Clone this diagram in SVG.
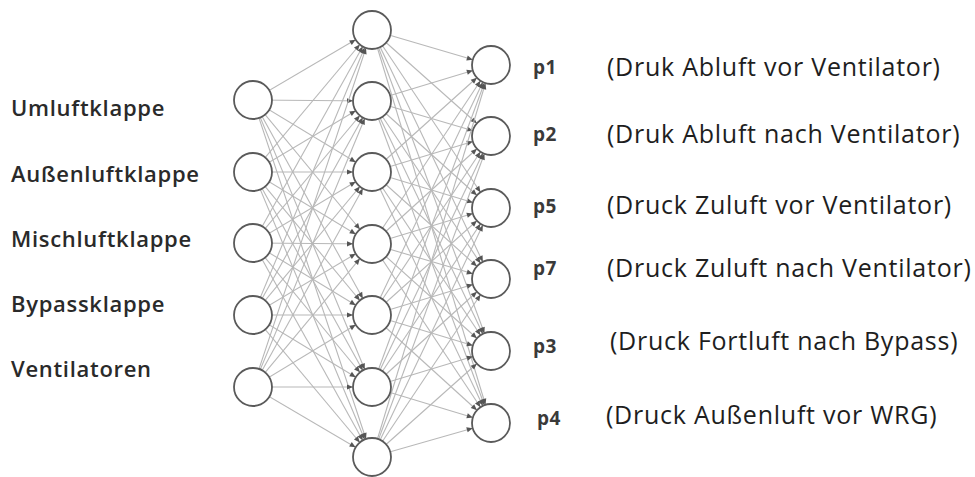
<svg xmlns="http://www.w3.org/2000/svg" width="975" height="477" viewBox="0 0 975 477">
<style>
.c{stroke:#b8b8b8;stroke-width:1.1;fill:none;marker-end:url(#ah)}
.n{fill:#fff;stroke:#5a5a5a;stroke-width:1.8}
.lab{font-family:"Open Sans","Liberation Sans",sans-serif;font-weight:600;font-size:22px;letter-spacing:0.7px;fill:#2a2a2a}
.p{font-family:"Open Sans","Liberation Sans",sans-serif;font-weight:700;font-size:19px;letter-spacing:0.5px;fill:#3a3a3a}
.d{font-family:"Open Sans","Liberation Sans",sans-serif;font-size:25px;letter-spacing:0.75px;fill:#1e1e1e}
</style>
<defs>
<marker id="ah" markerUnits="userSpaceOnUse" markerWidth="8" markerHeight="6" refX="19" refY="0" orient="auto" overflow="visible">
<path d="M-6,-2.6 L0,0 L-6,2.6 z" fill="#555"/>
</marker>
</defs>
<rect width="975" height="477" fill="#fff"/>
<g id="connectors">
<line class="c" x1="253" y1="100" x2="372" y2="30"/>
<line class="c" x1="253" y1="100" x2="372" y2="101"/>
<line class="c" x1="253" y1="100" x2="372" y2="172"/>
<line class="c" x1="253" y1="100" x2="372" y2="244"/>
<line class="c" x1="253" y1="100" x2="372" y2="315"/>
<line class="c" x1="253" y1="100" x2="372" y2="387"/>
<line class="c" x1="253" y1="100" x2="372" y2="457"/>
<line class="c" x1="253" y1="172" x2="372" y2="30"/>
<line class="c" x1="253" y1="172" x2="372" y2="101"/>
<line class="c" x1="253" y1="172" x2="372" y2="172"/>
<line class="c" x1="253" y1="172" x2="372" y2="244"/>
<line class="c" x1="253" y1="172" x2="372" y2="315"/>
<line class="c" x1="253" y1="172" x2="372" y2="387"/>
<line class="c" x1="253" y1="172" x2="372" y2="457"/>
<line class="c" x1="253" y1="243" x2="372" y2="30"/>
<line class="c" x1="253" y1="243" x2="372" y2="101"/>
<line class="c" x1="253" y1="243" x2="372" y2="172"/>
<line class="c" x1="253" y1="243" x2="372" y2="244"/>
<line class="c" x1="253" y1="243" x2="372" y2="315"/>
<line class="c" x1="253" y1="243" x2="372" y2="387"/>
<line class="c" x1="253" y1="243" x2="372" y2="457"/>
<line class="c" x1="253" y1="315" x2="372" y2="30"/>
<line class="c" x1="253" y1="315" x2="372" y2="101"/>
<line class="c" x1="253" y1="315" x2="372" y2="172"/>
<line class="c" x1="253" y1="315" x2="372" y2="244"/>
<line class="c" x1="253" y1="315" x2="372" y2="315"/>
<line class="c" x1="253" y1="315" x2="372" y2="387"/>
<line class="c" x1="253" y1="315" x2="372" y2="457"/>
<line class="c" x1="253" y1="387" x2="372" y2="30"/>
<line class="c" x1="253" y1="387" x2="372" y2="101"/>
<line class="c" x1="253" y1="387" x2="372" y2="172"/>
<line class="c" x1="253" y1="387" x2="372" y2="244"/>
<line class="c" x1="253" y1="387" x2="372" y2="315"/>
<line class="c" x1="253" y1="387" x2="372" y2="387"/>
<line class="c" x1="253" y1="387" x2="372" y2="457"/>
<line class="c" x1="372" y1="30" x2="491" y2="65"/>
<line class="c" x1="372" y1="30" x2="491" y2="136"/>
<line class="c" x1="372" y1="30" x2="491" y2="208"/>
<line class="c" x1="372" y1="30" x2="491" y2="279"/>
<line class="c" x1="372" y1="30" x2="491" y2="351"/>
<line class="c" x1="372" y1="30" x2="491" y2="423"/>
<line class="c" x1="372" y1="101" x2="491" y2="65"/>
<line class="c" x1="372" y1="101" x2="491" y2="136"/>
<line class="c" x1="372" y1="101" x2="491" y2="208"/>
<line class="c" x1="372" y1="101" x2="491" y2="279"/>
<line class="c" x1="372" y1="101" x2="491" y2="351"/>
<line class="c" x1="372" y1="101" x2="491" y2="423"/>
<line class="c" x1="372" y1="172" x2="491" y2="65"/>
<line class="c" x1="372" y1="172" x2="491" y2="136"/>
<line class="c" x1="372" y1="172" x2="491" y2="208"/>
<line class="c" x1="372" y1="172" x2="491" y2="279"/>
<line class="c" x1="372" y1="172" x2="491" y2="351"/>
<line class="c" x1="372" y1="172" x2="491" y2="423"/>
<line class="c" x1="372" y1="244" x2="491" y2="65"/>
<line class="c" x1="372" y1="244" x2="491" y2="136"/>
<line class="c" x1="372" y1="244" x2="491" y2="208"/>
<line class="c" x1="372" y1="244" x2="491" y2="279"/>
<line class="c" x1="372" y1="244" x2="491" y2="351"/>
<line class="c" x1="372" y1="244" x2="491" y2="423"/>
<line class="c" x1="372" y1="315" x2="491" y2="65"/>
<line class="c" x1="372" y1="315" x2="491" y2="136"/>
<line class="c" x1="372" y1="315" x2="491" y2="208"/>
<line class="c" x1="372" y1="315" x2="491" y2="279"/>
<line class="c" x1="372" y1="315" x2="491" y2="351"/>
<line class="c" x1="372" y1="315" x2="491" y2="423"/>
<line class="c" x1="372" y1="387" x2="491" y2="65"/>
<line class="c" x1="372" y1="387" x2="491" y2="136"/>
<line class="c" x1="372" y1="387" x2="491" y2="208"/>
<line class="c" x1="372" y1="387" x2="491" y2="279"/>
<line class="c" x1="372" y1="387" x2="491" y2="351"/>
<line class="c" x1="372" y1="387" x2="491" y2="423"/>
<line class="c" x1="372" y1="457" x2="491" y2="65"/>
<line class="c" x1="372" y1="457" x2="491" y2="136"/>
<line class="c" x1="372" y1="457" x2="491" y2="208"/>
<line class="c" x1="372" y1="457" x2="491" y2="279"/>
<line class="c" x1="372" y1="457" x2="491" y2="351"/>
<line class="c" x1="372" y1="457" x2="491" y2="423"/>
</g>
<g id="in1"><circle class="n" cx="253" cy="100" r="19"/><text class="lab" x="11" y="116">Umluftklappe</text></g>
<g id="in2"><circle class="n" cx="253" cy="172" r="19"/><text class="lab" x="11" y="182">Außenluftklappe</text></g>
<g id="in3"><circle class="n" cx="253" cy="243" r="19"/><text class="lab" x="11" y="247">Mischluftklappe</text></g>
<g id="in4"><circle class="n" cx="253" cy="315" r="19"/><text class="lab" x="11" y="312">Bypassklappe</text></g>
<g id="in5"><circle class="n" cx="253" cy="387" r="19"/><text class="lab" x="11" y="377">Ventilatoren</text></g>
<g id="h1"><circle class="n" cx="372" cy="30" r="19"/></g>
<g id="h2"><circle class="n" cx="372" cy="101" r="19"/></g>
<g id="h3"><circle class="n" cx="372" cy="172" r="19"/></g>
<g id="h4"><circle class="n" cx="372" cy="244" r="19"/></g>
<g id="h5"><circle class="n" cx="372" cy="315" r="19"/></g>
<g id="h6"><circle class="n" cx="372" cy="387" r="19"/></g>
<g id="h7"><circle class="n" cx="372" cy="457" r="19"/></g>
<g id="out1"><circle class="n" cx="491" cy="65" r="19"/><text class="p" x="533" y="74">p1</text><text class="d" x="607" y="76">(Druk Abluft vor Ventilator)</text></g>
<g id="out2"><circle class="n" cx="491" cy="136" r="19"/><text class="p" x="533" y="141">p2</text><text class="d" x="607" y="143">(Druk Abluft nach Ventilator)</text></g>
<g id="out3"><circle class="n" cx="491" cy="208" r="19"/><text class="p" x="533" y="213">p5</text><text class="d" x="607" y="214">(Druck Zuluft vor Ventilator)</text></g>
<g id="out4"><circle class="n" cx="491" cy="279" r="19"/><text class="p" x="533" y="275">p7</text><text class="d" x="607" y="277">(Druck Zuluft nach Ventilator)</text></g>
<g id="out5"><circle class="n" cx="491" cy="351" r="19"/><text class="p" x="533" y="353">p3</text><text class="d" x="610" y="350">(Druck Fortluft nach Bypass)</text></g>
<g id="out6"><circle class="n" cx="491" cy="423" r="19"/><text class="p" x="537" y="425">p4</text><text class="d" x="606" y="424">(Druck Außenluft vor WRG)</text></g>
</svg>
